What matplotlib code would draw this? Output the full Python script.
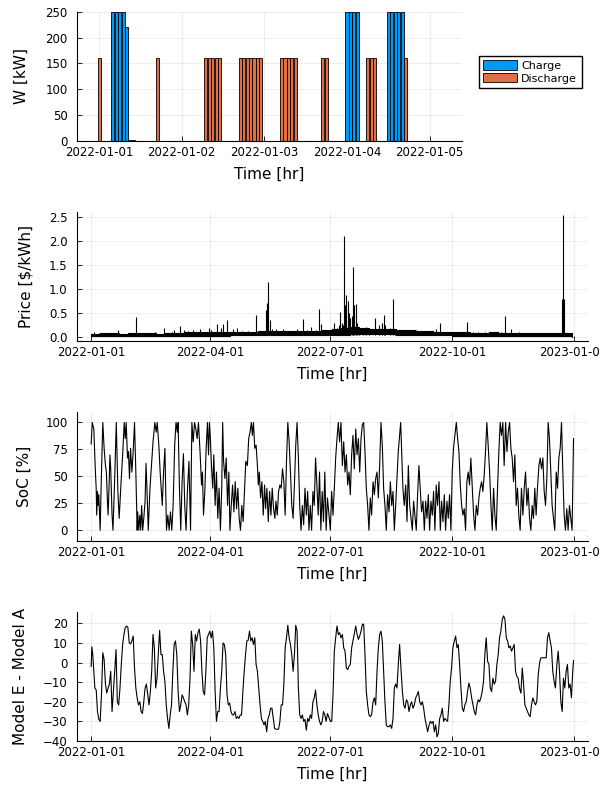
import numpy as np
import matplotlib
matplotlib.use("Agg")
import matplotlib.pyplot as plt
import matplotlib.dates as mdates

plt.rcParams["font.family"] = "DejaVu Sans"
plt.rcParams["axes.unicode_minus"] = True

CHARGE_C = "#009AFA"
DISCHARGE_C = "#E36F47"
T0 = np.datetime64("2022-01-01T00:00")

# --- battery dispatch, first days of the year (hours from 2022-01-01 00:00)
charge_hr = [4, 5, 6, 7, 8, 9, 10, 72, 73, 74, 75, 84, 85, 86, 87, 88]
charge_kw = [250, 250, 250, 250, 220, 2, 2, 250, 250, 250, 250, 250, 250, 250, 250, 250]
discharge_hr = [0, 17, 31, 32, 33, 34, 35, 41, 42, 43, 44, 45, 46, 47,
                53, 54, 55, 56, 57, 65, 66, 78, 79, 80, 89]
discharge_kw = [160, 160, 160, 160, 160, 160, 160, 160, 160, 160, 160, 160, 160, 160,
                160, 160, 160, 160, 160, 160, 160, 160, 160, 160, 160]

# --- price: weekly band of the hourly baseline + individual spikes (day of year)
price_week_day = [7 * i for i in range(53)]
price_lo = [0.02, 0.02, 0.02, 0.02, 0.02, 0.02, 0.02, 0.02, 0.02, 0.03, 0.03, 0.03, 0.03,
            0.03, 0.03, 0.04, 0.04, 0.04, 0.04, 0.04, 0.04, 0.05, 0.05, 0.05, 0.05, 0.05,
            0.05, 0.05, 0.06, 0.06, 0.06, 0.06, 0.06, 0.05, 0.05, 0.05, 0.05, 0.05, 0.04,
            0.03, 0.03, 0.03, 0.03, 0.03, 0.03, 0.03, 0.02, 0.02, 0.02, 0.02, 0.02, 0.02, 0.0]
price_hi = [0.07, 0.08, 0.08, 0.07, 0.08, 0.08, 0.08, 0.07, 0.08, 0.09, 0.10, 0.10, 0.10,
            0.11, 0.11, 0.12, 0.12, 0.12, 0.13, 0.14, 0.14, 0.14, 0.13, 0.14, 0.14, 0.15,
            0.18, 0.20, 0.22, 0.20, 0.18, 0.17, 0.18, 0.16, 0.15, 0.14, 0.13, 0.12, 0.12,
            0.10, 0.10, 0.09, 0.09, 0.10, 0.09, 0.09, 0.09, 0.08, 0.08, 0.08, 0.08, 0.08, 0.02]
spike_day = [2, 6, 11, 20, 34, 38, 48.5, 55, 61, 63, 67, 70, 73, 77, 82, 86, 89, 91,
             95, 98, 100, 103, 107, 110, 114, 119, 122, 125, 129, 132, 133, 134, 135,
             137, 140, 145, 148, 150, 156, 160, 163, 166, 170, 172.5, 174, 177,
             184, 186, 187.5, 188.5, 189.5, 190.5, 191.3, 192, 193, 194, 195, 196, 197,
             198.1, 199, 200.2, 201, 203, 206, 208, 210, 215, 218, 220, 221.3, 222.5,
             226, 228.4, 230, 236, 241, 246, 251, 261, 264.2, 269, 279, 284.3, 289,
             293, 298, 303, 310, 313.3, 318, 324, 331, 339, 349, 355.9, 356.9, 357.9]
spike_val = [0.10, 0.08, 0.07, 0.15, 0.42, 0.08, 0.12, 0.19, 0.12, 0.15, 0.24, 0.15, 0.14,
             0.15, 0.17, 0.12, 0.19, 0.15, 0.27, 0.20, 0.28, 0.35, 0.18, 0.20, 0.14, 0.13,
             0.12, 0.47, 0.12, 0.57, 0.71, 1.15, 0.36, 0.17, 0.17, 0.18, 0.14, 0.12, 0.18,
             0.38, 0.15, 0.22, 0.15, 0.59, 0.27, 0.15,
             0.30, 0.20, 0.26, 0.52, 0.30, 0.25, 2.10, 0.68, 0.89, 0.76, 0.50, 0.40, 0.45,
             1.46, 0.68, 0.70, 0.30, 0.15, 0.12, 0.22, 0.15, 0.40, 0.25, 0.30, 0.47, 0.25,
             0.20, 0.80, 0.15, 0.15, 0.12, 0.15, 0.12, 0.17, 0.29, 0.10, 0.12, 0.31, 0.10,
             0.12, 0.12, 0.12, 0.12, 0.45, 0.17, 0.12, 0.08, 0.08, 0.08, 0.80, 2.55, 0.80]

# --- state of charge, turning points
soc_day = [0, 0.8, 2, 3.2, 3.8, 4.2, 4.8, 5.2, 5.8, 6.2, 6.8, 7.8, 8.8, 9.8, 10.8, 11.5,
           12.2, 12.8, 13.5, 14.2, 14.8, 15.8, 16.5, 17.8, 19, 20.2, 21.2, 22.5, 24, 25,
           25.8, 26.5, 27.5, 28.2, 29, 29.8, 30.8, 31.8, 32.8, 33.8, 34.8, 35.2, 36, 36.8,
           37.5, 38.2, 39, 39.8, 40.8, 41.5, 42.2, 43.2, 44.5, 45.8, 46.8, 48.2, 49.2, 50,
           51.2, 52.2, 53.8, 54.8, 55.8, 57, 58, 59, 60, 61, 62, 63.2, 64.2, 65.2, 65.8,
           66.8, 67.8, 68.8, 69.8, 70.8, 71.8, 72.8, 74, 75.2, 76.2, 77.2, 78.2, 79.2, 80.2,
           81.2, 82.5, 83.5, 84.2, 85, 86, 87, 88, 88.8, 89.5, 90.2, 91, 92, 92.8, 93.8,
           94.8, 95.8, 96.8, 97.8, 98.8, 99.5, 100.2, 101.2, 102.2, 103.2, 104.2, 105, 106,
           107, 108, 109, 110, 111, 112, 113, 114, 115, 116, 117, 118.2, 119.2, 120.2,
           121.2, 122, 122.8, 123.8, 124.8, 125.8, 126.5, 127.2, 128.2, 129.2, 130.2,
           131.2, 132, 133, 134, 135, 136, 137, 138, 139, 139.8, 140.8, 141.8, 142.8,
           143.8, 144.8, 145.8, 146.8, 147.8, 148.8, 149.8, 150.8, 151.8, 152.8, 153.8,
           154.8, 155.8, 156.8, 157.8, 158.8, 159.8, 160.8, 161.8, 162.8, 163.8, 164.8,
           165.8, 166.8, 167.8, 168.8, 169.8, 170.8, 171.8, 172.8, 173.8, 174.8, 175.8,
           176.8, 177.8, 178.8,
           181, 182, 183, 184, 185, 186, 187, 188, 189, 190.1, 191.1, 192.1, 193.1, 194.1,
           195.1, 196.1, 197.1, 198.1, 199.1, 200.2, 201.2, 202.2, 203.2, 204.2, 205.2,
           206.2, 207.2, 208.2, 209.2, 210.2, 211.2, 212.2, 213.3, 214.3, 215.3, 216.3,
           217.3, 218.3, 219.3, 220.3, 221.3, 222.3, 223.3, 224.3, 225.4, 226.4, 227.4,
           228.4, 229.4, 230.4, 231.4, 232.4, 233.4, 234.2, 234.9, 235.9, 236.9, 238, 239,
           240, 241, 242, 243, 244, 245, 246, 247, 248, 249, 250, 251.1, 252.1, 253.1,
           254.1, 255.1, 256.1, 257.1, 258.1, 259.1, 260.1, 261.1, 262.1, 263.2, 264.2,
           265.2, 266.2, 267.2, 268.2, 269.2, 270.2, 271.2, 272.2, 273.2, 274.2, 275.2,
           276.3, 277.3, 278.3, 279.3, 280.3, 281.3, 282.3, 283.3, 284.3, 285.3, 286.3,
           287.3, 288.4, 289.4, 290.4, 291.4, 292.4, 293.4, 294.4, 295.4, 296.4, 297.4,
           298.4, 299.4, 300.4, 301.5, 302.5, 303.5, 304.5, 305.5, 306.5, 307.5, 308.5,
           309.5, 310.5, 311.5, 312.5, 313.6, 314.6, 315.6, 316.6, 317.6, 318.6, 319.6,
           320.6, 321.6, 322.6, 323.6, 324.6, 325.6, 326.7, 327.7, 328.7, 329.7, 330.7,
           331.7, 332.7, 333.7, 334.7, 335.7, 336.7, 337.7, 338.8, 339.8, 340.8, 341.8,
           342.8, 343.8, 344.8, 345.8, 346.8, 347.8, 348.8, 349.8, 350.8, 351.9, 352.9,
           353.9, 354.9, 355.9, 356.9, 357.9, 358.9, 359.9, 360.9, 361.9, 362.9, 363.9, 365]
soc_pct = [80, 100, 94, 54, 39, 14, 36, 23, 33, 20, 0, 54, 100, 76, 60, 54, 30, 14, 39, 70,
           57, 14, 0, 48, 100, 36, 11, 42, 74, 100, 85, 100, 67, 73, 48, 76, 54, 73, 100,
           54, 0, 17, 0, 14, 0, 23, 0, 11, 27, 62, 39, 0, 39, 64, 82, 100, 91, 100, 79, 54,
           23, 54, 76, 0, 14, 0, 17, 0, 23, 79, 100, 91, 100, 39, 0, 45, 71, 23, 0, 36, 64,
           0, 100, 82, 100, 94, 85, 100, 70, 42, 54, 14, 36, 76, 100, 70, 100, 85, 60, 39,
           70, 23, 54, 11, 39, 0, 39, 100, 64, 48, 67, 23, 54, 0, 23, 42, 17, 45, 20, 39,
           11, 0, 23, 8, 36, 64, 60, 85, 91, 100, 88, 100, 76, 79, 60, 42, 54, 30, 45, 14,
           42, 20, 39, 8, 36, 14, 39, 20, 11, 27, 14, 36, 42, 39, 57, 45, 14, 64, 100, 82,
           54, 23, 11, 42, 79, 100, 67, 23, 0, 23, 5, 39, 14, 36, 0, 23, 0, 36, 23, 67, 42,
           14, 54, 0, 36, 8, 54, 0, 30,
           0, 36, 14, 39, 67, 85, 100, 82, 100, 60, 82, 54, 70, 42, 54, 33, 70, 88, 57, 94,
           70, 85, 54, 85, 98, 100, 73, 39, 23, 0, 30, 14, 45, 33, 48, 54, 30, 60, 100, 79,
           39, 23, 0, 33, 17, 45, 23, 36, 0, 23, 48, 73, 88, 100, 76, 39, 23, 42, 8, 60,
           23, 11, 0, 27, 14, 0, 33, 60, 39, 17, 27, 0, 27, 11, 33, 0, 27, 14, 36, 0, 42,
           23, 45, 0, 27, 8, 33, 0, 27, 11, 33, 0, 54, 76, 88, 100, 85, 73, 42, 23, 14, 20,
           0, 45, 54, 42, 67, 39, 14, 0, 23, 14, 30, 39, 45, 36, 51, 73, 100, 79, 54, 23, 0,
           39, 14, 0, 39, 73, 100, 88, 100, 60, 100, 73, 91, 100, 76, 67, 45, 70, 23, 39,
           14, 0, 39, 14, 39, 54, 23, 39, 11, 0, 23, 11, 39, 14, 39, 60, 67, 57, 67, 36, 23,
           48, 100, 85, 54, 23, 11, 0, 54, 39, 67, 76, 100, 54, 14, 0, 20, 0, 23, 11, 0, 85]

# --- Model E minus Model A
diff_day = [0, 0.5, 1.2, 2, 2.8, 3.8, 4.8, 5.8, 6.8, 7.8, 8.8, 9.8, 10.8, 11.8, 12.8, 13.8,
            14.8, 15.8, 16.8, 17.8, 18.8, 19.8, 20.8, 21.8, 22.8, 23.8, 24.8, 25.8, 26.8,
            27.8, 28.8, 29.8, 30.8, 31.8, 32.8, 33.8, 34.8, 35.8, 36.8, 37.8, 38.8, 39.8,
            40.8, 41.8, 42.8, 43.8, 44.8, 45.8, 46.8, 47.8, 48.8, 49.8, 50.8, 51.8, 52.8,
            53.8, 54.8, 55.8, 56.8, 57.8, 58.8, 59.8, 60.8, 61.8, 62.8, 63.8, 64.8, 65.8,
            66.8, 67.8, 68.8, 69.8, 70.8, 71.8, 72.8, 73.8, 74.8, 75.8, 76.8, 77.8, 78.8,
            79.8, 80.8, 81.8, 82.8, 83.8, 84.8, 85.8, 86.8, 87.8, 88.8, 89.8, 90.8, 91.8,
            92.8, 93.8, 94.8, 95.8, 96.8, 97.8, 98.8, 99.8, 100.8, 101.8, 102.8, 103.8,
            104.8, 105.8, 106.8, 107.8, 108.8, 109.8, 110.8, 111.8, 112.8, 113.8, 114.8,
            115.8, 116.8, 117.8, 118.8, 119.8, 120.8, 121.8, 122.8, 123.8, 124.8, 125.8,
            126.8, 127.8, 128.8, 129.8, 130.8, 131.8, 132.8, 133.8, 134.8, 135.8, 136.8,
            137.8, 138.8, 139.8, 140.8, 141.8, 142.8, 143.8, 144.8, 145.8, 146.8, 147.8,
            148.8, 149.8, 150.8, 151.8, 152.8, 153.8, 154.8, 155.8, 156.8, 157.8, 158.8,
            159.8, 160.8, 161.8, 162.8, 163.8, 164.8, 165.8, 166.8, 167.8, 168.8, 169.8,
            170.8, 171.8, 172.8, 173.8, 174.8, 175.8, 176.8, 177.8, 178.8,
            181, 182, 183, 184, 185, 186, 187, 188, 189, 190.1, 191.1, 192.1, 193.1, 194.1,
            195.1, 196.1, 197.1, 198.1, 199.1, 200.2, 201.2, 202.2, 203.2, 204.2, 205.2,
            206.2, 207.2, 208.2, 209.2, 210.2, 211.2, 212.2, 213.3, 214.3, 215.3, 216.3,
            217.3, 218.3, 219.3, 220.3, 221.3, 222.3, 223.3, 224.3, 225.4, 226.4, 227.4,
            228.4, 229.4, 230.4, 231.4, 232.4, 233.4, 234.4, 235.5, 236.5, 237.5, 238.5,
            239.5, 240.5, 241.5, 242.5, 243.5, 244.5, 245.6, 246.6, 247.6, 248.6, 249.6,
            250.6, 251.6, 252.6, 253.6, 254.6, 255.7, 256.7, 257.7, 258.7, 259.7, 260.7,
            261.7, 262.7, 263.7, 264.7, 265.7, 266.7, 267.7, 268.7, 269.7, 270.7, 271.7,
            272.7, 273.7, 274.8, 275.8, 276.8, 277.8, 278.8, 279.8, 280.8, 281.8, 282.8,
            283.8, 284.8, 285.8, 286.8, 287.9, 288.9, 289.9, 290.9, 291.9, 292.9, 293.9,
            294.9, 295.9, 296.9, 297.9, 298.9, 300, 301, 302, 303, 304, 305, 306, 307, 308,
            309, 310, 311.1, 312.1, 313.1, 314.1, 315.1, 316.1, 317.1, 318.1, 319.1, 320.1,
            321.1, 322.1, 323.1, 324.1, 325.2, 326.2, 327.2, 328.2, 329.2, 330.2, 331.2,
            332.2, 333.2, 334.2, 335.2, 336.2, 337.2, 338.3, 339.3, 340.3, 341.3, 342.3,
            343.3, 344.3, 345.3, 346.3, 347.3, 348.3, 349.3, 350.3, 351.3, 352.4, 353.4,
            354.4, 355.4, 356.4, 357.4, 358.4, 359.4, 360.4, 361.4, 362.4, 363.4, 364.4, 365]
diff_val = [-2, 8, 4, -4.5, -13, -14, -25, -29, -30, -16.5, 5, 1.5, -11, -15.5, -13, -11,
            -4.5, -25, -14.8, -4.5, 6.6, -20, -21.6, -13, -1, 9.2, 14.3, 17.8, 18.6, 17.8,
            10, 9.5, 11, 13.5, -2.8, -13, -18, -21.6, -20, -25, -26, -20, -13, -11, -16.5,
            -21.6, -14.8, -4.5, 14.3, 7.5, -13, -8, 4, 16.4, 4, 4, -4.5, -9.6, -21.6, -28.5,
            -33.6, -26.7, -21.6, -4.5, 9.2, 11, 4, -14.8, -25, -21.6, -16.5, -18, -20, -21.6,
            -26.7, -21.6, -8, 16, 9.2, -4.5, 14.3, 11, 15.2, 17, 11, -4.5, -14.8, -16.5,
            -4.5, 12.6, 14.3, 16, 12.6, 16, 7.5, -14.8, -30, -25, -25, -13, -4.5, 10, 9.2, 4,
            -16.5, -21.6, -20.7, -25, -26.7, -26.7, -25, -28.5, -27.6, -28.5, -26.7, -26.7,
            -14.8, -4.5, 4, 11, 11.3, 16, 11, 12.6, 9.2, 12.6, -1, -4.5, -13, -21.6, -28.5,
            -30, -31.8, -30, -35.3, -28.5, -26.7, -23.3, -23.3, -28.5, -33.6, -34, -34, -34,
            -30, -21.6, -21.6, -11, 7.5, 12.6, 19, 12.6, 9.2, 4, -4.5, 4, 19, 16, -13, -26.7,
            -28.5, -26.7, -30, -29, -34.5, -28.5, -30, -26.7, -28.5, -20, -18, -14, -21.6,
            -26.7, -30, -31.8, -30, -25, -26.7, -30, -26,
            -30, -30, -16.5, 5.8, 12.6, 18.6, 14.3, 15.2, 12.6, 14.3, 7.5, 5.8, -2.8, -3.6,
            -2, -1, 7.5, 11, 14.3, 18.6, 14.3, 11.8, 13.5, 16, 19.5, 19.5, 4, -14.8, -21.6,
            -26.7, -27.6, -26.7, -20, -18, -21.6, -4.5, 7.5, 14.3, 16, 11, -4.5, -20, -31.8,
            -32.7, -32.7, -31.8, -33.6, -28.5, -13, -11, -13, -1, 9.2, -2.8, -14.8, -21.6,
            -23.3, -19, -20, -25, -21.6, -20, -23.3, -21.6, -18, -16.5, -14.8, -20, -21.6,
            -20, -23.3, -28.5, -31.8, -35.3, -31.8, -30, -31, -30, -35.3, -31.8, -37.9, -36,
            -28.5, -26.7, -23.3, -30, -28.5, -29.3, -30, -21.6, -9.6, -2.8, 7.5, 11, 13.5,
            7.5, 9.2, -1, -13, -23.3, -25, -21.6, -20, -14.8, -10.5, -13, -18, -21.6, -25,
            -26.7, -21.6, -19, -20, -18, -14.8, -9.6, 4, 12.6, 0.6, -1, -13, -14.8, -8, -11,
            -9.6, -1, 4, 12.6, 16, 22, 23.8, 22, 12.6, 11, 7.5, 8.4, 5.8, 7.5, 9.2, -4.5, -7,
            -8, -13, -15.6, -2.8, -11, -21.6, -23.3, -25, -26.7, -27.6, -21.6, -18, -20,
            -21.6, -20, -6.2, -0.2, 2.4, 2.4, 2.4, 2.4, 2.4, 12.6, 15.2, 11, 7.5, -4.5, -9.6,
            -13, -1, 5.8, -4.5, -20, -25, -8, -13, -4.5, -1, -13, -11, -18, -4.5, 1]


def days_to_dt(days):
    return T0 + (np.asarray(days, dtype=float) * 24 * 60).astype("timedelta64[m]")


def hours_to_dt(hours):
    return T0 + (np.asarray(hours, dtype=float) * 60).astype("timedelta64[m]")


def style_axis(ax):
    ax.spines["top"].set_visible(False)
    ax.spines["right"].set_visible(False)
    for s in ("left", "bottom"):
        ax.spines[s].set_linewidth(0.8)
    ax.grid(True, color="black", alpha=0.1, linewidth=0.5)
    ax.set_axisbelow(True)
    ax.tick_params(direction="in", length=3.5, width=0.6, labelsize=8.5)
    ax.tick_params(axis="x", pad=3.5)
    ax.tick_params(axis="y", pad=6.5)
    ax.xaxis.set_major_formatter(mdates.DateFormatter("%Y-%m-%d"))
    ax.set_xlabel("Time [hr]", fontsize=11)
    ax.xaxis.set_label_coords(0.5, -0.2)


fig = plt.figure(figsize=(6, 8), dpi=100)
left = 76.7 / 600
h = 129.3 / 800
ax1 = fig.add_axes([left, 1 - 141 / 800, (462.3 - 76.7) / 600, h])
ax2 = fig.add_axes([left, 1 - 341 / 800, (588 - 76.7) / 600, h])
ax3 = fig.add_axes([left, 1 - 541 / 800, (588 - 76.7) / 600, h])
ax4 = fig.add_axes([left, 1 - 741 / 800, (588 - 76.7) / 600, h])

# dispatch bars
bw = np.timedelta64(54, "m")
b1 = ax1.bar(hours_to_dt(charge_hr), charge_kw, width=bw, color=CHARGE_C,
             edgecolor="black", linewidth=0.6, label="Charge")
b2 = ax1.bar(hours_to_dt(discharge_hr), discharge_kw, width=bw, color=DISCHARGE_C,
             edgecolor="black", linewidth=0.6, label="Discharge")
ax1.set_ylim(0, 250)
ax1.set_yticks([0, 50, 100, 150, 200, 250])
ax1.set_xlim(hours_to_dt([-6.5])[0], hours_to_dt([105.5])[0])
ax1.xaxis.set_major_locator(mdates.DayLocator())
style_axis(ax1)
ax1.set_ylabel("W [kW]", fontsize=11)
ax1.yaxis.set_label_coords(-0.125, 0.5)

fig.legend(handles=[b1, b2], loc="upper left", bbox_to_anchor=(479 / 600, 1 - 56 / 800),
           fontsize=8, frameon=True, fancybox=False, framealpha=1, edgecolor="black",
           borderaxespad=0, handlelength=3.0, handleheight=0.9, labelspacing=0.2,
           handletextpad=0.4, borderpad=0.4)

# price
xlo, xhi = days_to_dt([-10.95])[0], days_to_dt([375.95])[0]
wk = days_to_dt(price_week_day)
ax2.fill_between(wk, price_lo, price_hi, color="black", linewidth=0.8, step="post")
ax2.vlines(days_to_dt(spike_day), 0.05, spike_val, color="black", linewidth=0.8)
ax2.set_ylim(-0.077, 2.615)
ax2.set_yticks([0.0, 0.5, 1.0, 1.5, 2.0, 2.5])
ax2.yaxis.set_major_formatter(matplotlib.ticker.FormatStrFormatter("%.1f"))
ax2.set_ylabel("Price [\\$/kWh]", fontsize=11)
ax2.yaxis.set_label_coords(-0.085, 0.5)

# state of charge
ax3.plot(days_to_dt(soc_day), soc_pct, color="black", linewidth=0.8)
ax3.set_ylim(-10, 110)
ax3.set_yticks([0, 25, 50, 75, 100])
ax3.set_ylabel("SoC [%]", fontsize=11)
ax3.yaxis.set_label_coords(-0.087, 0.5)

# model difference
ax4.plot(days_to_dt(diff_day), diff_val, color="black", linewidth=0.8)
ax4.set_ylim(-40, 25.9)
ax4.set_yticks([-40, -30, -20, -10, 0, 10, 20])
ax4.set_ylabel("Model E - Model A", fontsize=11)
ax4.yaxis.set_label_coords(-0.095, 0.5)

for ax in (ax2, ax3, ax4):
    ax.set_xlim(xlo, xhi)
    ax.xaxis.set_major_locator(mdates.MonthLocator(bymonth=[1, 4, 7, 10]))
    style_axis(ax)

fig.savefig("out.png", dpi=100)
